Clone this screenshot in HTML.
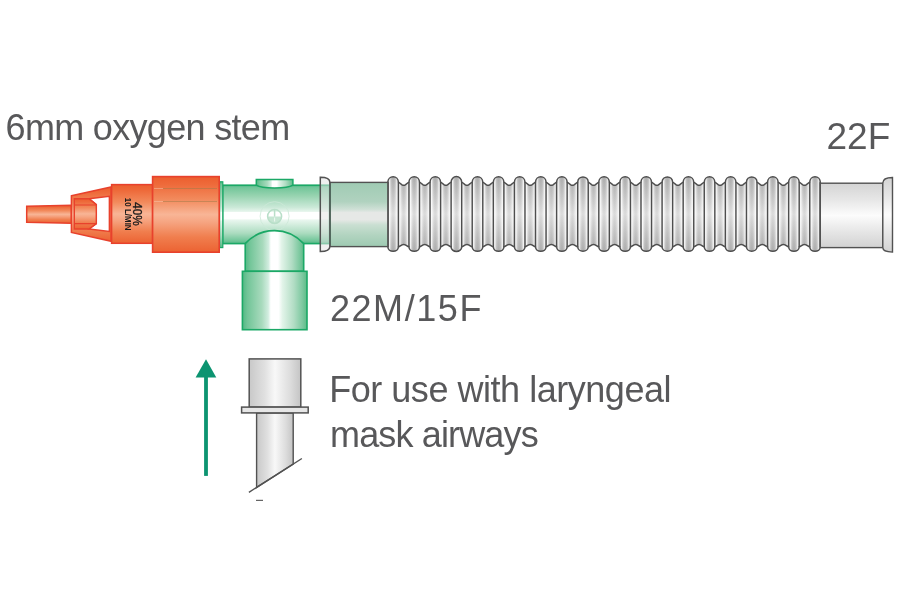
<!DOCTYPE html>
<html><head><meta charset="utf-8">
<style>
html,body{margin:0;padding:0;background:#fff;}
body{width:900px;height:600px;overflow:hidden;position:relative;}
svg{position:absolute;left:0;top:0;will-change:transform;}
text{font-family:"Liberation Sans",sans-serif;}
</style></head><body>
<svg width="900" height="600" viewBox="0 0 900 600">
<defs>
<linearGradient id="gOr" x1="0" y1="0" x2="0" y2="1">
<stop offset="0" stop-color="#ec5e2e"/>
<stop offset="0.1" stop-color="#ee6a3a"/>
<stop offset="0.3" stop-color="#f28a5c"/>
<stop offset="0.5" stop-color="#f8b596"/>
<stop offset="0.6" stop-color="#f6a582"/>
<stop offset="0.8" stop-color="#f07e4e"/>
<stop offset="1" stop-color="#ec6232"/>
</linearGradient>
<linearGradient id="gGr" x1="0" y1="0" x2="0" y2="1">
<stop offset="0" stop-color="#4cb682"/>
<stop offset="0.04" stop-color="#72c69a"/>
<stop offset="0.17" stop-color="#94d2ae"/>
<stop offset="0.38" stop-color="#cbe9d8"/>
<stop offset="0.45" stop-color="#e6f5ec"/>
<stop offset="0.46" stop-color="#ffffff"/>
<stop offset="0.57" stop-color="#ffffff"/>
<stop offset="0.6" stop-color="#e8f6ee"/>
<stop offset="0.82" stop-color="#acdcc0"/>
<stop offset="0.95" stop-color="#72c69a"/>
<stop offset="1" stop-color="#55b987"/>
</linearGradient>
<linearGradient id="gGrH" x1="0" y1="0" x2="1" y2="0">
<stop offset="0" stop-color="#52b884"/>
<stop offset="0.08" stop-color="#72c598"/>
<stop offset="0.3" stop-color="#a8dabd"/>
<stop offset="0.4" stop-color="#d2ede0"/>
<stop offset="0.44" stop-color="#ffffff"/>
<stop offset="0.56" stop-color="#ffffff"/>
<stop offset="0.62" stop-color="#e2f4e9"/>
<stop offset="0.8" stop-color="#b0dcc3"/>
<stop offset="0.93" stop-color="#7cc89f"/>
<stop offset="1" stop-color="#5cbb88"/>
</linearGradient>
<linearGradient id="gGG" x1="0" y1="0" x2="0" y2="1">
<stop offset="0" stop-color="#9fcbb3"/>
<stop offset="0.3" stop-color="#b0d2bf"/>
<stop offset="0.42" stop-color="#cfe0d6"/>
<stop offset="0.47" stop-color="#e6e8e6"/>
<stop offset="0.58" stop-color="#e6e8e6"/>
<stop offset="0.66" stop-color="#cadfd2"/>
<stop offset="0.82" stop-color="#b2d4c0"/>
<stop offset="1" stop-color="#9ecab2"/>
</linearGradient>
<linearGradient id="gTube" gradientUnits="userSpaceOnUse" x1="0" y1="176" x2="0" y2="252">
<stop offset="0" stop-color="#b4b4b4"/>
<stop offset="0.2" stop-color="#c8c8c8"/>
<stop offset="0.5" stop-color="#e6e6e6"/>
<stop offset="0.8" stop-color="#c8c8c8"/>
<stop offset="1" stop-color="#b4b4b4"/>
</linearGradient>
<linearGradient id="gRidgeH" x1="0" y1="0" x2="1" y2="0">
<stop offset="0" stop-color="#fff" stop-opacity="0.25"/>
<stop offset="0.14" stop-color="#fff" stop-opacity="0.85"/>
<stop offset="0.3" stop-color="#fff" stop-opacity="0.1"/>
<stop offset="0.5" stop-color="#000" stop-opacity="0.05"/>
<stop offset="0.7" stop-color="#fff" stop-opacity="0.1"/>
<stop offset="0.86" stop-color="#fff" stop-opacity="0.8"/>
<stop offset="1" stop-color="#fff" stop-opacity="0.25"/>
</linearGradient>
<linearGradient id="gValleyH" x1="0" y1="0" x2="1" y2="0">
<stop offset="0" stop-color="#fff" stop-opacity="0.25"/>
<stop offset="0.14" stop-color="#fff" stop-opacity="0.8"/>
<stop offset="0.3" stop-color="#fff" stop-opacity="0.1"/>
<stop offset="0.5" stop-color="#000" stop-opacity="0.05"/>
<stop offset="0.7" stop-color="#fff" stop-opacity="0.1"/>
<stop offset="0.86" stop-color="#fff" stop-opacity="0.7"/>
<stop offset="1" stop-color="#fff" stop-opacity="0.25"/>
</linearGradient>
<clipPath id="cTube"><path d="M387.85 247 L387.85 182 A5.28 5.4 0 0 1 398.4 182 L402.07 184.8 Q403.67 185.7 405.27 184.8 L408.95 182 A5.28 5.4 0 0 1 419.5 182 L423.17 184.8 Q424.77 185.7 426.37 184.8 L430.04 182 A5.28 5.4 0 0 1 440.59 182 L444.26 184.8 Q445.86 185.7 447.46 184.8 L451.13 182 A5.28 5.4 0 0 1 461.69 182 L465.36 184.8 Q466.96 185.7 468.56 184.8 L472.23 182 A5.28 5.4 0 0 1 482.78 182 L486.45 184.8 Q488.05 185.7 489.65 184.8 L493.33 182 A5.28 5.4 0 0 1 503.88 182 L507.55 184.8 Q509.15 185.7 510.75 184.8 L514.42 182 A5.28 5.4 0 0 1 524.97 182 L528.64 184.8 Q530.24 185.7 531.84 184.8 L535.51 182 A5.28 5.4 0 0 1 546.06 182 L549.74 184.8 Q551.34 185.7 552.94 184.8 L556.61 182 A5.28 5.4 0 0 1 567.16 182 L570.83 184.8 Q572.43 185.7 574.03 184.8 L577.71 182 A5.28 5.4 0 0 1 588.25 182 L591.93 184.8 Q593.53 185.7 595.13 184.8 L598.8 182 A5.28 5.4 0 0 1 609.35 182 L613.02 184.8 Q614.62 185.7 616.22 184.8 L619.89 182 A5.28 5.4 0 0 1 630.44 182 L634.12 184.8 Q635.72 185.7 637.32 184.8 L640.99 182 A5.28 5.4 0 0 1 651.54 182 L655.21 184.8 Q656.81 185.7 658.41 184.8 L662.09 182 A5.28 5.4 0 0 1 672.63 182 L676.31 184.8 Q677.91 185.7 679.51 184.8 L683.18 182 A5.28 5.4 0 0 1 693.73 182 L697.4 184.8 Q699 185.7 700.6 184.8 L704.27 182 A5.28 5.4 0 0 1 714.82 182 L718.5 184.8 Q720.1 185.7 721.7 184.8 L725.37 182 A5.28 5.4 0 0 1 735.92 182 L739.59 184.8 Q741.19 185.7 742.79 184.8 L746.47 182 A5.28 5.4 0 0 1 757.01 182 L760.69 184.8 Q762.29 185.7 763.89 184.8 L767.56 182 A5.28 5.4 0 0 1 778.11 182 L781.78 184.8 Q783.38 185.7 784.98 184.8 L788.65 182 A5.28 5.4 0 0 1 799.2 182 L802.88 184.8 Q804.48 185.7 806.08 184.8 L809.75 182 A5.28 5.4 0 0 1 820.3 182 L820.3 247 A5.28 4.5 0 0 1 809.75 247 L806.08 244.9 Q804.48 244 802.88 244.9 L799.2 247 A5.28 4.5 0 0 1 788.65 247 L784.98 244.9 Q783.38 244 781.78 244.9 L778.11 247 A5.28 4.5 0 0 1 767.56 247 L763.89 244.9 Q762.29 244 760.69 244.9 L757.01 247 A5.28 4.5 0 0 1 746.47 247 L742.79 244.9 Q741.19 244 739.59 244.9 L735.92 247 A5.28 4.5 0 0 1 725.37 247 L721.7 244.9 Q720.1 244 718.5 244.9 L714.82 247 A5.28 4.5 0 0 1 704.27 247 L700.6 244.9 Q699 244 697.4 244.9 L693.73 247 A5.28 4.5 0 0 1 683.18 247 L679.51 244.9 Q677.91 244 676.31 244.9 L672.63 247 A5.28 4.5 0 0 1 662.09 247 L658.41 244.9 Q656.81 244 655.21 244.9 L651.54 247 A5.28 4.5 0 0 1 640.99 247 L637.32 244.9 Q635.72 244 634.12 244.9 L630.44 247 A5.28 4.5 0 0 1 619.89 247 L616.22 244.9 Q614.62 244 613.02 244.9 L609.35 247 A5.28 4.5 0 0 1 598.8 247 L595.13 244.9 Q593.53 244 591.93 244.9 L588.25 247 A5.28 4.5 0 0 1 577.71 247 L574.03 244.9 Q572.43 244 570.83 244.9 L567.16 247 A5.28 4.5 0 0 1 556.61 247 L552.94 244.9 Q551.34 244 549.74 244.9 L546.06 247 A5.28 4.5 0 0 1 535.51 247 L531.84 244.9 Q530.24 244 528.64 244.9 L524.97 247 A5.28 4.5 0 0 1 514.42 247 L510.75 244.9 Q509.15 244 507.55 244.9 L503.88 247 A5.28 4.5 0 0 1 493.33 247 L489.65 244.9 Q488.05 244 486.45 244.9 L482.78 247 A5.28 4.5 0 0 1 472.23 247 L468.56 244.9 Q466.96 244 465.36 244.9 L461.69 247 A5.28 4.5 0 0 1 451.13 247 L447.46 244.9 Q445.86 244 444.26 244.9 L440.59 247 A5.28 4.5 0 0 1 430.04 247 L426.37 244.9 Q424.77 244 423.17 244.9 L419.5 247 A5.28 4.5 0 0 1 408.95 247 L405.27 244.9 Q403.67 244 402.07 244.9 L398.4 247 A5.28 4.5 0 0 1 387.85 247 Z"/></clipPath>
<linearGradient id="gGray" x1="0" y1="0" x2="0" y2="1">
<stop offset="0" stop-color="#d4d4d4"/>
<stop offset="0.25" stop-color="#e6e6e6"/>
<stop offset="0.5" stop-color="#fcfcfc"/>
<stop offset="0.75" stop-color="#e6e6e6"/>
<stop offset="1" stop-color="#d2d2d2"/>
</linearGradient>
<linearGradient id="gGrayH" x1="0" y1="0" x2="1" y2="0">
<stop offset="0" stop-color="#c8c8c8"/>
<stop offset="0.3" stop-color="#e0e0e0"/>
<stop offset="0.5" stop-color="#f8f8f8"/>
<stop offset="0.8" stop-color="#dcdcdc"/>
<stop offset="1" stop-color="#c4c4c4"/>
</linearGradient>
</defs>

<!-- corrugated tube -->
<path d="M387.85 247 L387.85 182 A5.28 5.4 0 0 1 398.4 182 L402.07 184.8 Q403.67 185.7 405.27 184.8 L408.95 182 A5.28 5.4 0 0 1 419.5 182 L423.17 184.8 Q424.77 185.7 426.37 184.8 L430.04 182 A5.28 5.4 0 0 1 440.59 182 L444.26 184.8 Q445.86 185.7 447.46 184.8 L451.13 182 A5.28 5.4 0 0 1 461.69 182 L465.36 184.8 Q466.96 185.7 468.56 184.8 L472.23 182 A5.28 5.4 0 0 1 482.78 182 L486.45 184.8 Q488.05 185.7 489.65 184.8 L493.33 182 A5.28 5.4 0 0 1 503.88 182 L507.55 184.8 Q509.15 185.7 510.75 184.8 L514.42 182 A5.28 5.4 0 0 1 524.97 182 L528.64 184.8 Q530.24 185.7 531.84 184.8 L535.51 182 A5.28 5.4 0 0 1 546.06 182 L549.74 184.8 Q551.34 185.7 552.94 184.8 L556.61 182 A5.28 5.4 0 0 1 567.16 182 L570.83 184.8 Q572.43 185.7 574.03 184.8 L577.71 182 A5.28 5.4 0 0 1 588.25 182 L591.93 184.8 Q593.53 185.7 595.13 184.8 L598.8 182 A5.28 5.4 0 0 1 609.35 182 L613.02 184.8 Q614.62 185.7 616.22 184.8 L619.89 182 A5.28 5.4 0 0 1 630.44 182 L634.12 184.8 Q635.72 185.7 637.32 184.8 L640.99 182 A5.28 5.4 0 0 1 651.54 182 L655.21 184.8 Q656.81 185.7 658.41 184.8 L662.09 182 A5.28 5.4 0 0 1 672.63 182 L676.31 184.8 Q677.91 185.7 679.51 184.8 L683.18 182 A5.28 5.4 0 0 1 693.73 182 L697.4 184.8 Q699 185.7 700.6 184.8 L704.27 182 A5.28 5.4 0 0 1 714.82 182 L718.5 184.8 Q720.1 185.7 721.7 184.8 L725.37 182 A5.28 5.4 0 0 1 735.92 182 L739.59 184.8 Q741.19 185.7 742.79 184.8 L746.47 182 A5.28 5.4 0 0 1 757.01 182 L760.69 184.8 Q762.29 185.7 763.89 184.8 L767.56 182 A5.28 5.4 0 0 1 778.11 182 L781.78 184.8 Q783.38 185.7 784.98 184.8 L788.65 182 A5.28 5.4 0 0 1 799.2 182 L802.88 184.8 Q804.48 185.7 806.08 184.8 L809.75 182 A5.28 5.4 0 0 1 820.3 182 L820.3 247 A5.28 4.5 0 0 1 809.75 247 L806.08 244.9 Q804.48 244 802.88 244.9 L799.2 247 A5.28 4.5 0 0 1 788.65 247 L784.98 244.9 Q783.38 244 781.78 244.9 L778.11 247 A5.28 4.5 0 0 1 767.56 247 L763.89 244.9 Q762.29 244 760.69 244.9 L757.01 247 A5.28 4.5 0 0 1 746.47 247 L742.79 244.9 Q741.19 244 739.59 244.9 L735.92 247 A5.28 4.5 0 0 1 725.37 247 L721.7 244.9 Q720.1 244 718.5 244.9 L714.82 247 A5.28 4.5 0 0 1 704.27 247 L700.6 244.9 Q699 244 697.4 244.9 L693.73 247 A5.28 4.5 0 0 1 683.18 247 L679.51 244.9 Q677.91 244 676.31 244.9 L672.63 247 A5.28 4.5 0 0 1 662.09 247 L658.41 244.9 Q656.81 244 655.21 244.9 L651.54 247 A5.28 4.5 0 0 1 640.99 247 L637.32 244.9 Q635.72 244 634.12 244.9 L630.44 247 A5.28 4.5 0 0 1 619.89 247 L616.22 244.9 Q614.62 244 613.02 244.9 L609.35 247 A5.28 4.5 0 0 1 598.8 247 L595.13 244.9 Q593.53 244 591.93 244.9 L588.25 247 A5.28 4.5 0 0 1 577.71 247 L574.03 244.9 Q572.43 244 570.83 244.9 L567.16 247 A5.28 4.5 0 0 1 556.61 247 L552.94 244.9 Q551.34 244 549.74 244.9 L546.06 247 A5.28 4.5 0 0 1 535.51 247 L531.84 244.9 Q530.24 244 528.64 244.9 L524.97 247 A5.28 4.5 0 0 1 514.42 247 L510.75 244.9 Q509.15 244 507.55 244.9 L503.88 247 A5.28 4.5 0 0 1 493.33 247 L489.65 244.9 Q488.05 244 486.45 244.9 L482.78 247 A5.28 4.5 0 0 1 472.23 247 L468.56 244.9 Q466.96 244 465.36 244.9 L461.69 247 A5.28 4.5 0 0 1 451.13 247 L447.46 244.9 Q445.86 244 444.26 244.9 L440.59 247 A5.28 4.5 0 0 1 430.04 247 L426.37 244.9 Q424.77 244 423.17 244.9 L419.5 247 A5.28 4.5 0 0 1 408.95 247 L405.27 244.9 Q403.67 244 402.07 244.9 L398.4 247 A5.28 4.5 0 0 1 387.85 247 Z" fill="url(#gTube)"/>
<g clip-path="url(#cTube)">
<rect x="387.85" y="170" width="10.55" height="90" fill="url(#gRidgeH)"/>
<rect x="398.4" y="170" width="10.54" height="90" fill="url(#gValleyH)"/>
<rect x="408.95" y="170" width="10.55" height="90" fill="url(#gRidgeH)"/>
<rect x="419.5" y="170" width="10.54" height="90" fill="url(#gValleyH)"/>
<rect x="430.04" y="170" width="10.55" height="90" fill="url(#gRidgeH)"/>
<rect x="440.59" y="170" width="10.54" height="90" fill="url(#gValleyH)"/>
<rect x="451.13" y="170" width="10.55" height="90" fill="url(#gRidgeH)"/>
<rect x="461.69" y="170" width="10.54" height="90" fill="url(#gValleyH)"/>
<rect x="472.23" y="170" width="10.55" height="90" fill="url(#gRidgeH)"/>
<rect x="482.78" y="170" width="10.54" height="90" fill="url(#gValleyH)"/>
<rect x="493.33" y="170" width="10.55" height="90" fill="url(#gRidgeH)"/>
<rect x="503.88" y="170" width="10.54" height="90" fill="url(#gValleyH)"/>
<rect x="514.42" y="170" width="10.55" height="90" fill="url(#gRidgeH)"/>
<rect x="524.97" y="170" width="10.54" height="90" fill="url(#gValleyH)"/>
<rect x="535.51" y="170" width="10.55" height="90" fill="url(#gRidgeH)"/>
<rect x="546.06" y="170" width="10.54" height="90" fill="url(#gValleyH)"/>
<rect x="556.61" y="170" width="10.55" height="90" fill="url(#gRidgeH)"/>
<rect x="567.16" y="170" width="10.54" height="90" fill="url(#gValleyH)"/>
<rect x="577.71" y="170" width="10.55" height="90" fill="url(#gRidgeH)"/>
<rect x="588.25" y="170" width="10.54" height="90" fill="url(#gValleyH)"/>
<rect x="598.8" y="170" width="10.55" height="90" fill="url(#gRidgeH)"/>
<rect x="609.35" y="170" width="10.54" height="90" fill="url(#gValleyH)"/>
<rect x="619.89" y="170" width="10.55" height="90" fill="url(#gRidgeH)"/>
<rect x="630.44" y="170" width="10.54" height="90" fill="url(#gValleyH)"/>
<rect x="640.99" y="170" width="10.55" height="90" fill="url(#gRidgeH)"/>
<rect x="651.54" y="170" width="10.54" height="90" fill="url(#gValleyH)"/>
<rect x="662.09" y="170" width="10.55" height="90" fill="url(#gRidgeH)"/>
<rect x="672.63" y="170" width="10.54" height="90" fill="url(#gValleyH)"/>
<rect x="683.18" y="170" width="10.55" height="90" fill="url(#gRidgeH)"/>
<rect x="693.73" y="170" width="10.54" height="90" fill="url(#gValleyH)"/>
<rect x="704.27" y="170" width="10.55" height="90" fill="url(#gRidgeH)"/>
<rect x="714.82" y="170" width="10.54" height="90" fill="url(#gValleyH)"/>
<rect x="725.37" y="170" width="10.55" height="90" fill="url(#gRidgeH)"/>
<rect x="735.92" y="170" width="10.54" height="90" fill="url(#gValleyH)"/>
<rect x="746.47" y="170" width="10.55" height="90" fill="url(#gRidgeH)"/>
<rect x="757.01" y="170" width="10.54" height="90" fill="url(#gValleyH)"/>
<rect x="767.56" y="170" width="10.55" height="90" fill="url(#gRidgeH)"/>
<rect x="778.11" y="170" width="10.54" height="90" fill="url(#gValleyH)"/>
<rect x="788.65" y="170" width="10.55" height="90" fill="url(#gRidgeH)"/>
<rect x="799.2" y="170" width="10.54" height="90" fill="url(#gValleyH)"/>
<rect x="809.75" y="170" width="10.55" height="90" fill="url(#gRidgeH)"/>
</g>
<path d="M387.85 247 L387.85 182 A5.28 5.4 0 0 1 398.4 182 L402.07 184.8 Q403.67 185.7 405.27 184.8 L408.95 182 A5.28 5.4 0 0 1 419.5 182 L423.17 184.8 Q424.77 185.7 426.37 184.8 L430.04 182 A5.28 5.4 0 0 1 440.59 182 L444.26 184.8 Q445.86 185.7 447.46 184.8 L451.13 182 A5.28 5.4 0 0 1 461.69 182 L465.36 184.8 Q466.96 185.7 468.56 184.8 L472.23 182 A5.28 5.4 0 0 1 482.78 182 L486.45 184.8 Q488.05 185.7 489.65 184.8 L493.33 182 A5.28 5.4 0 0 1 503.88 182 L507.55 184.8 Q509.15 185.7 510.75 184.8 L514.42 182 A5.28 5.4 0 0 1 524.97 182 L528.64 184.8 Q530.24 185.7 531.84 184.8 L535.51 182 A5.28 5.4 0 0 1 546.06 182 L549.74 184.8 Q551.34 185.7 552.94 184.8 L556.61 182 A5.28 5.4 0 0 1 567.16 182 L570.83 184.8 Q572.43 185.7 574.03 184.8 L577.71 182 A5.28 5.4 0 0 1 588.25 182 L591.93 184.8 Q593.53 185.7 595.13 184.8 L598.8 182 A5.28 5.4 0 0 1 609.35 182 L613.02 184.8 Q614.62 185.7 616.22 184.8 L619.89 182 A5.28 5.4 0 0 1 630.44 182 L634.12 184.8 Q635.72 185.7 637.32 184.8 L640.99 182 A5.28 5.4 0 0 1 651.54 182 L655.21 184.8 Q656.81 185.7 658.41 184.8 L662.09 182 A5.28 5.4 0 0 1 672.63 182 L676.31 184.8 Q677.91 185.7 679.51 184.8 L683.18 182 A5.28 5.4 0 0 1 693.73 182 L697.4 184.8 Q699 185.7 700.6 184.8 L704.27 182 A5.28 5.4 0 0 1 714.82 182 L718.5 184.8 Q720.1 185.7 721.7 184.8 L725.37 182 A5.28 5.4 0 0 1 735.92 182 L739.59 184.8 Q741.19 185.7 742.79 184.8 L746.47 182 A5.28 5.4 0 0 1 757.01 182 L760.69 184.8 Q762.29 185.7 763.89 184.8 L767.56 182 A5.28 5.4 0 0 1 778.11 182 L781.78 184.8 Q783.38 185.7 784.98 184.8 L788.65 182 A5.28 5.4 0 0 1 799.2 182 L802.88 184.8 Q804.48 185.7 806.08 184.8 L809.75 182 A5.28 5.4 0 0 1 820.3 182 L820.3 247 A5.28 4.5 0 0 1 809.75 247 L806.08 244.9 Q804.48 244 802.88 244.9 L799.2 247 A5.28 4.5 0 0 1 788.65 247 L784.98 244.9 Q783.38 244 781.78 244.9 L778.11 247 A5.28 4.5 0 0 1 767.56 247 L763.89 244.9 Q762.29 244 760.69 244.9 L757.01 247 A5.28 4.5 0 0 1 746.47 247 L742.79 244.9 Q741.19 244 739.59 244.9 L735.92 247 A5.28 4.5 0 0 1 725.37 247 L721.7 244.9 Q720.1 244 718.5 244.9 L714.82 247 A5.28 4.5 0 0 1 704.27 247 L700.6 244.9 Q699 244 697.4 244.9 L693.73 247 A5.28 4.5 0 0 1 683.18 247 L679.51 244.9 Q677.91 244 676.31 244.9 L672.63 247 A5.28 4.5 0 0 1 662.09 247 L658.41 244.9 Q656.81 244 655.21 244.9 L651.54 247 A5.28 4.5 0 0 1 640.99 247 L637.32 244.9 Q635.72 244 634.12 244.9 L630.44 247 A5.28 4.5 0 0 1 619.89 247 L616.22 244.9 Q614.62 244 613.02 244.9 L609.35 247 A5.28 4.5 0 0 1 598.8 247 L595.13 244.9 Q593.53 244 591.93 244.9 L588.25 247 A5.28 4.5 0 0 1 577.71 247 L574.03 244.9 Q572.43 244 570.83 244.9 L567.16 247 A5.28 4.5 0 0 1 556.61 247 L552.94 244.9 Q551.34 244 549.74 244.9 L546.06 247 A5.28 4.5 0 0 1 535.51 247 L531.84 244.9 Q530.24 244 528.64 244.9 L524.97 247 A5.28 4.5 0 0 1 514.42 247 L510.75 244.9 Q509.15 244 507.55 244.9 L503.88 247 A5.28 4.5 0 0 1 493.33 247 L489.65 244.9 Q488.05 244 486.45 244.9 L482.78 247 A5.28 4.5 0 0 1 472.23 247 L468.56 244.9 Q466.96 244 465.36 244.9 L461.69 247 A5.28 4.5 0 0 1 451.13 247 L447.46 244.9 Q445.86 244 444.26 244.9 L440.59 247 A5.28 4.5 0 0 1 430.04 247 L426.37 244.9 Q424.77 244 423.17 244.9 L419.5 247 A5.28 4.5 0 0 1 408.95 247 L405.27 244.9 Q403.67 244 402.07 244.9 L398.4 247 A5.28 4.5 0 0 1 387.85 247 Z" fill="none" stroke="#4e4e4e" stroke-width="1.5" stroke-linejoin="round"/>
<path d="M387.85 182V247M398.4 182V247M408.95 182V247M419.5 182V247M430.04 182V247M440.59 182V247M451.13 182V247M461.69 182V247M472.23 182V247M482.78 182V247M493.33 182V247M503.88 182V247M514.42 182V247M524.97 182V247M535.51 182V247M546.06 182V247M556.61 182V247M567.16 182V247M577.71 182V247M588.25 182V247M598.8 182V247M609.35 182V247M619.89 182V247M630.44 182V247M640.99 182V247M651.54 182V247M662.09 182V247M672.63 182V247M683.18 182V247M693.73 182V247M704.27 182V247M714.82 182V247M725.37 182V247M735.92 182V247M746.47 182V247M757.01 182V247M767.56 182V247M778.11 182V247M788.65 182V247M799.2 182V247M809.75 182V247M820.3 182V247" fill="none" stroke="#4e4e4e" stroke-width="1.4"/>

<!-- end cylinder 22F -->
<rect x="820.3" y="183.2" width="62.5" height="64.4" fill="url(#gGray)" stroke="#525252" stroke-width="1.4"/>
<path d="M882.8 183.2 Q882.8 177.5 892.5 177.5 L892.5 252.1 Q882.8 252.1 882.8 247.6 Z" fill="url(#gGray)" stroke="#525252" stroke-width="1.4"/>

<!-- green-gray section -->
<rect x="329.9" y="182.4" width="57.95" height="64.2" fill="url(#gGG)" stroke="#525252" stroke-width="1.4"/>

<!-- green body -->
<rect x="222.6" y="185.2" width="107" height="58.4" fill="url(#gGr)" stroke="#1ba866" stroke-width="1.6"/>
<rect x="219.6" y="181.8" width="3.2" height="65.8" fill="url(#gGr)" stroke="#1ba866" stroke-width="1.2"/>

<!-- flange (semi-transparent) -->
<path d="M320.3 177.3 Q329.9 177.3 329.9 182.4 L329.9 246.6 Q329.9 251.6 320.3 251.6 Z" fill="#e4e4e4" fill-opacity="0.55" stroke="#525252" stroke-width="1.5"/>

<!-- top nub -->
<path d="M256.3 185.2 L256.3 179.6 L292.9 179.6 L292.9 185.2 C287 189 262 189 256.3 185.2 Z" fill="url(#gGrH)" stroke="#1ba866" stroke-width="1.5"/>

<!-- circle marking -->
<circle cx="274.6" cy="216.2" r="14.5" fill="none" stroke="#cde8d8" stroke-width="0.8"/>
<path d="M267.6 216.6 A7 7 0 0 0 281.6 216.6 Z" fill="#c6e6d3"/>
<circle cx="274.6" cy="216.4" r="7" fill="none" stroke="#b9dfc9" stroke-width="1.5"/>
<path d="M274.6 209.4 V216.6" stroke="#b9dfc9" stroke-width="1.5"/>
<path d="M274.6 217.5 V221.5" stroke="#eef8f2" stroke-width="1"/>

<!-- stem -->
<path d="M245.2 243.6 Q257 230.6 274.5 230.6 Q291.5 230.6 303.7 243.6 L303.7 271.3 L245.2 271.3 Z" fill="url(#gGrH)" stroke="#1ba866" stroke-width="1.6"/>
<rect x="242.4" y="271.3" width="64.6" height="58.4" fill="url(#gGrH)" stroke="#1ba866" stroke-width="1.6"/>

<!-- orange adapter -->
<path d="M26.7 206.3 L71.4 205.3 L71.4 223.3 L26.7 222.3 Z" fill="url(#gOr)" stroke="#e8412c" stroke-width="1.5"/>
<path d="M71.4 195.8 L111.1 187 L111.1 241.3 L71.4 232.5 Z" fill="url(#gOr)" stroke="#e8412c" stroke-width="1.5"/>
<path d="M89 198.7 L109.4 196.3 L109.4 231.4 L89 229 L96.3 223.6 L96.3 204.6 Z" fill="#ffffff" stroke="#e8412c" stroke-width="1.5"/>
<path d="M74.3 198.7 L89 198.7 L96.3 204.6 L96.3 223.6 L89 229 L74.3 229 Z" fill="url(#gOr)" stroke="#e8412c" stroke-width="1.4"/>
<path d="M74.3 205 H96.3 M74.3 223.6 H96.3" stroke="#e8412c" stroke-width="1.2"/>
<rect x="111.6" y="184.6" width="41" height="58.7" fill="url(#gOr)" stroke="#e8412c" stroke-width="1.5"/>
<rect x="152.6" y="176.6" width="66.6" height="75.6" fill="url(#gOr)" stroke="#e8412c" stroke-width="1.6"/>
<path d="M163 188.5 H217 M163 201.5 H217" stroke="#9a7a48" stroke-width="0.6" opacity="0.8"/>
<path d="M154 188.5 H163 M154 201.5 H163" stroke="#f8c8b0" stroke-width="0.6" opacity="0.8"/>

<!-- rotated text on adapter -->
<g transform="translate(133 214) rotate(90) scale(0.93 1.04)">
<text x="0" y="0" font-size="12.6" text-anchor="middle" fill="#1a1a1a" stroke="#1a1a1a" stroke-width="0.35">40%</text>
</g>
<g transform="translate(124.9 214.2) rotate(90) scale(0.9 1)">
<text x="0" y="0" font-size="8.9" font-weight="bold" text-anchor="middle" fill="#1a1a1a">10 L/MIN</text>
</g>

<!-- arrow -->
<rect x="204.1" y="376" width="3.8" height="99.9" fill="#0c9471"/>
<path d="M206 359.3 L216.3 377.4 L195.6 377.4 Z" fill="#0c9471"/>

<!-- LMA connector -->
<path d="M256.6 413 L256.6 487.4 L293.2 464 L293.2 413 Z" fill="url(#gGrayH)" stroke="#525252" stroke-width="1.4"/>
<path d="M248.9 492.3 L301.9 458.5" stroke="#525252" stroke-width="1.4"/>
<rect x="249.2" y="358.9" width="51.6" height="48.2" fill="url(#gGrayH)" stroke="#525252" stroke-width="1.5"/>
<rect x="241.6" y="407.1" width="66.6" height="5.8" fill="#e6e6e6" stroke="#525252" stroke-width="1.5"/>
<rect x="256" y="499.8" width="7" height="1.1" fill="#555555"/>

<!-- labels -->
<text x="5.6" y="140" font-size="36" letter-spacing="-0.68" fill="#58585a">6mm oxygen stem</text>
<text x="890.3" y="148.8" font-size="37" fill="#58585a" text-anchor="end">22F</text>
<text x="329.9" y="320.9" font-size="36" letter-spacing="1.58" fill="#58585a">22M/15F</text>
<text x="329.2" y="402.3" font-size="36" letter-spacing="-0.47" fill="#58585a">For use with laryngeal</text>
<text x="330" y="446.8" font-size="36" letter-spacing="-0.85" fill="#58585a">mask airways</text>
</svg>
</body></html>
